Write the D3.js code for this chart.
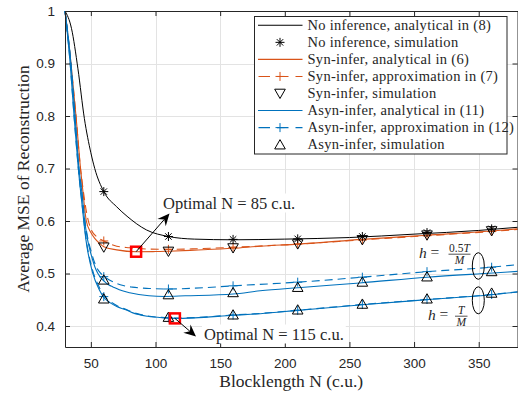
<!DOCTYPE html>
<html>
<head>
<meta charset="utf-8">
<script src="https://cdn.jsdelivr.net/npm/d3@7"></script>
<style>
  body { margin: 0; background: #fff; }
  text { font-family: "Liberation Serif", "Times New Roman", serif; }
  .tick text { font-family: "Liberation Sans", Arial, sans-serif; font-size: 13.5px; fill: #262626; }
</style>
</head>
<body>
<svg id="chart" width="518" height="399"></svg>
<script>
// ---- data ---------------------------------------------------------------
const xTicks = [50, 100, 150, 200, 250, 300, 350];
const yTicks = [0.4, 0.5, 0.6, 0.7, 0.8, 0.9, 1.0];

// blocklengths of the simulated points
const simN = [60, 110, 160, 210, 260, 310, 360];

// no inference
const noInfN = [30, 35, 40, 45, 50, 53, 60, 70, 78, 93, 110, 130, 160, 200, 250, 300, 350, 380];
const noInfAnalytic = [1.0, 0.967, 0.89, 0.795, 0.73, 0.70, 0.656, 0.627, 0.609, 0.583, 0.5705, 0.5655, 0.5642, 0.5655, 0.5685, 0.575, 0.582, 0.588];
const noInfSim = [0.656, 0.5705, 0.565, 0.566, 0.5705, 0.578, 0.585];

// synchronous inference
const synN = [30, 34.6, 38.5, 42, 43.7, 46.5, 50, 53, 56.5, 60, 70, 85, 100, 110, 130, 160, 181, 210, 260, 310, 360, 380];
const synAnalytic = [1.0, 0.90, 0.80, 0.70, 0.66, 0.60, 0.578, 0.567, 0.558, 0.551, 0.545, 0.5415, 0.5418, 0.5425, 0.5445, 0.548, 0.552, 0.556, 0.565, 0.573, 0.581, 0.585];
const synApproxN = [30, 34.6, 38.5, 42, 44, 47, 50, 55, 60, 65, 70, 80, 90, 110, 130, 160, 210, 260, 310, 360, 380];
const synApprox = [1.0, 0.90, 0.80, 0.70, 0.66, 0.612, 0.585, 0.569, 0.562, 0.556, 0.552, 0.549, 0.547, 0.546, 0.547, 0.550, 0.556, 0.564, 0.572, 0.580, 0.584];
const synApproxMarks = [0.562, 0.546, 0.550, 0.556, 0.564, 0.572, 0.580];
const synSim = [0.550, 0.542, 0.5485, 0.556, 0.564, 0.573, 0.581];

// asynchronous inference, h = 0.5T/M
const asynHalfN = [30, 34.6, 37.7, 40.8, 43, 45, 47.5, 50, 54, 57, 60, 64, 67, 72, 80, 95, 107, 123, 160, 181, 210, 258, 310, 361, 380];
const asynHalfAnalytic = [1.0, 0.90, 0.80, 0.70, 0.655, 0.605, 0.564, 0.538, 0.507, 0.494, 0.486, 0.478, 0.4745, 0.469, 0.4635, 0.4577, 0.4563, 0.4575, 0.461, 0.467, 0.473, 0.482, 0.493, 0.501, 0.504];
const asynHalfApproxN = [30, 34.6, 37.7, 40.8, 43, 45, 47.5, 50, 54, 57, 60, 64, 70, 75, 82, 95, 110, 130, 160, 210, 260, 310, 360, 380];
const asynHalfApprox = [1.0, 0.90, 0.80, 0.70, 0.657, 0.609, 0.569, 0.544, 0.514, 0.502, 0.495, 0.488, 0.481, 0.477, 0.474, 0.4715, 0.4705, 0.472, 0.4765, 0.4835, 0.493, 0.5035, 0.512, 0.517];
const asynHalfApproxMarks = [0.494, 0.4705, 0.4765, 0.4835, 0.493, 0.5035, 0.512];
const asynHalfSim = [0.488, 0.460, 0.464, 0.474, 0.484, 0.494, 0.504];

// asynchronous inference, h = T/M
const asynFullN = [30, 34, 37, 40.3, 43, 46.2, 51.4, 56.5, 60.4, 65, 70, 77, 82, 94, 107, 115, 130, 160, 181, 210, 260, 310, 360, 380];
const asynFullAnalytic = [1.0, 0.90, 0.80, 0.70, 0.635, 0.564, 0.501, 0.469, 0.4533, 0.444, 0.437, 0.431, 0.4255, 0.4185, 0.4155, 0.4145, 0.4155, 0.4205, 0.4234, 0.4297, 0.4405, 0.4502, 0.4596, 0.4647];
const asynFullApprox = [1.0, 0.90, 0.80, 0.70, 0.637, 0.568, 0.506, 0.474, 0.457, 0.447, 0.439, 0.432, 0.4265, 0.419, 0.416, 0.415, 0.416, 0.421, 0.424, 0.430, 0.441, 0.4505, 0.460, 0.465];
const asynFullApproxMarks = [0.456, 0.4155, 0.421, 0.430, 0.441, 0.4505, 0.460];
const asynFullSim = [0.452, 0.417, 0.4215, 0.431, 0.442, 0.452, 0.463];

// optimal blocklengths
const optimalSyn = { n: 85, v: 0.5415 };
const optimalAsyn = { n: 115, v: 0.4145 };

// ---- setup --------------------------------------------------------------
const BLACK = "#000000", ORANGE = "#D95319", BLUE = "#0072BD", AXIS = "#262626";
const svg = d3.select("#chart");
const M = { left: 65, right: 517.5, top: 11, bottom: 347 };

const x = d3.scaleLinear().domain([30, 380]).range([M.left, M.right]);
const y = d3.scaleLinear().domain([0.36, 1]).range([M.bottom, M.top]);

const plot = svg.append("g");

// grid
const grid = plot.append("g").attr("stroke", "#e3e3e3").attr("stroke-width", 1);
xTicks.forEach(t => grid.append("line")
  .attr("x1", Math.round(x(t)) + 0.5).attr("x2", Math.round(x(t)) + 0.5)
  .attr("y1", M.top).attr("y2", M.bottom));
yTicks.forEach(t => grid.append("line")
  .attr("y1", Math.round(y(t)) + 0.5).attr("y2", Math.round(y(t)) + 0.5)
  .attr("x1", M.left).attr("x2", M.right));

// curves
const lineGen = d3.line().x(d => x(d[0])).y(d => y(d[1])).curve(d3.curveMonotoneX);
function curve(ns, vs, color, dash, width) {
  plot.append("path")
    .datum(d3.zip(ns, vs))
    .attr("d", lineGen)
    .attr("fill", "none")
    .attr("stroke", color)
    .attr("stroke-width", width || 1.1)
    .attr("stroke-dasharray", dash || null);
}
curve(noInfN, noInfAnalytic, BLACK, null, 1);
curve(synN, synAnalytic, ORANGE);
curve(synApproxN, synApprox, ORANGE, "8,5");
curve(asynHalfN, asynHalfAnalytic, BLUE);
curve(asynHalfApproxN, asynHalfApprox, BLUE, "8,5");
curve(asynFullN, asynFullAnalytic, BLUE);
curve(asynFullN, asynFullApprox, BLUE, "8,5");

// marker shapes
const markerPaths = {
  plus: "M-4.5,0H4.5M0,-4.5V4.5",
  star: "M-4.5,0H4.5M0,-4.5V4.5M-3.2,-3.2L3.2,3.2M-3.2,3.2L3.2,-3.2",
  up: "M0,-5L5.3,4.3L-5.3,4.3Z",
  down: "M0,5L5.3,-4.3L-5.3,-4.3Z"
};
function markers(vs, shape, color) {
  plot.append("g").selectAll("path")
    .data(d3.zip(simN, vs))
    .join("path")
    .attr("transform", d => `translate(${x(d[0])},${y(d[1])})`)
    .attr("d", markerPaths[shape])
    .attr("fill", "none")
    .attr("stroke", color)
    .attr("stroke-width", 1);
}
markers(synApproxMarks, "plus", ORANGE);
markers(asynHalfApproxMarks, "plus", BLUE);
markers(asynFullApproxMarks, "plus", BLUE);
markers(noInfSim, "star", BLACK);
markers(synSim, "down", BLACK);
markers(asynHalfSim, "up", BLACK);
markers(asynFullSim, "up", BLACK);

// axes (ticks pointing inward, box on all four sides)
const axes = svg.append("g");
const fmtY = d => d === 1 ? "1" : d.toFixed(1);
axes.append("g").attr("transform", `translate(0,${M.bottom})`)
  .call(d3.axisBottom(x).tickValues(xTicks).tickSizeInner(-5).tickSizeOuter(0).tickPadding(11));
axes.append("g").attr("transform", `translate(0,${M.top})`)
  .call(d3.axisTop(x).tickValues(xTicks).tickSizeInner(-5).tickSizeOuter(0).tickFormat(""));
axes.append("g").attr("transform", `translate(${M.left},0)`)
  .call(d3.axisLeft(y).tickValues(yTicks).tickSizeInner(-5).tickSizeOuter(0).tickPadding(10).tickFormat(fmtY));
axes.append("g").attr("transform", `translate(${M.right},0)`)
  .call(d3.axisRight(y).tickValues(yTicks).tickSizeInner(-5).tickSizeOuter(0).tickFormat(""));
axes.selectAll(".domain, .tick line").attr("stroke", AXIS);
axes.selectAll("text").attr("fill", AXIS);

// axis titles
svg.append("text")
  .attr("x", (M.left + M.right) / 2).attr("y", 387)
  .attr("text-anchor", "middle").attr("font-size", 17.5).attr("fill", AXIS)
  .text("Blocklength N (c.u.)");
svg.append("text")
  .attr("transform", `translate(29,${(M.top + M.bottom) / 2}) rotate(-90)`)
  .attr("text-anchor", "middle").attr("font-size", 17.5).attr("fill", AXIS)
  .text("Average MSE of Reconstruction");

// ---- annotations ------------------------------------------------------
const ann = svg.append("g");

function arrow(x1, y1, x2, y2) {
  const ang = Math.atan2(y2 - y1, x2 - x1);
  const L = 12, W = 5.5, notch = 4;
  ann.append("line").attr("x1", x1).attr("y1", y1)
    .attr("x2", x2 - Math.cos(ang) * (L - notch)).attr("y2", y2 - Math.sin(ang) * (L - notch))
    .attr("stroke", BLACK).attr("stroke-width", 1);
  const pts = [[0, 0], [-L, -W], [-(L - notch), 0], [-L, W]]
    .map(([u, v]) => [x2 + u * Math.cos(ang) - v * Math.sin(ang), y2 + u * Math.sin(ang) + v * Math.cos(ang)]);
  ann.append("path").attr("d", "M" + pts.join("L") + "Z").attr("fill", BLACK);
}
function boxedText(tx, ty, str) {
  const g = ann.append("g");
  const rect = g.append("rect").attr("fill", "#fff");
  const t = g.append("text").attr("x", tx).attr("y", ty)
    .attr("font-size", 16.5).attr("fill", AXIS).text(str);
  const b = t.node().getBBox();
  rect.attr("x", b.x - 2).attr("y", b.y).attr("width", b.width + 4).attr("height", b.height);
}

boxedText(163, 208.5, "Optimal N = 85 c.u.");
boxedText(204, 339.5, "Optimal N = 115 c.u.");

[optimalSyn, optimalAsyn].forEach(o => {
  ann.append("rect")
    .attr("x", x(o.n) - 5).attr("y", y(o.v) - 5)
    .attr("width", 10).attr("height", 10)
    .attr("fill", "none").attr("stroke", "#FF0000").attr("stroke-width", 2.5);
});
arrow(x(optimalSyn.n), y(optimalSyn.v), 169.5, 213.5);
arrow(x(optimalAsyn.n), y(optimalAsyn.v), 196, 336.5);

// grouping ellipses for the two switching intervals
ann.append("ellipse").attr("cx", 478.3).attr("cy", 266).attr("rx", 6).attr("ry", 13.3)
  .attr("fill", "none").attr("stroke", BLACK).attr("stroke-width", 1);
ann.append("ellipse").attr("cx", 478.3).attr("cy", 300.3).attr("rx", 6).attr("ry", 13.5)
  .attr("fill", "none").attr("stroke", BLACK).attr("stroke-width", 1);

function hLabel(hx, base, num, barX1, barX2) {
  const fc = (barX1 + barX2) / 2;
  ann.append("text").attr("x", hx).attr("y", base).attr("font-size", 15.5)
    .attr("font-style", "italic").attr("fill", AXIS).text("h");
  ann.append("text").attr("x", hx + 11.5).attr("y", base - 0.5).attr("font-size", 15.5)
    .attr("fill", AXIS).text("=");
  ann.append("line").attr("x1", barX1).attr("x2", barX2)
    .attr("y1", base - 3.6).attr("y2", base - 3.6)
    .attr("stroke", AXIS).attr("stroke-width", 0.8);
  const numT = ann.append("text").attr("x", fc).attr("y", base - 5.4)
    .attr("text-anchor", "middle").attr("font-size", 11.5).attr("fill", AXIS);
  num.forEach(([s, it]) => numT.append("tspan").attr("font-style", it ? "italic" : null).text(s));
  ann.append("text").attr("x", fc).attr("y", base + 6.2)
    .attr("text-anchor", "middle").attr("font-size", 11.5).attr("font-style", "italic")
    .attr("fill", AXIS).text("M");
}
hLabel(419, 257.8, [["0.5", false], ["T", true]], 448.5, 470.5);
hLabel(428, 319.8, [["T", true]], 455, 467.5);

// ---- legend -------------------------------------------------------------
const legendItems = [
  { label: "No inference, analytical in (8)", color: BLACK, line: true },
  { label: "No inference, simulation", color: BLACK, marker: "star" },
  { label: "Syn-infer, analytical in (6)", color: ORANGE, line: true },
  { label: "Syn-infer, approximation in (7)", color: ORANGE, line: true, dash: "8,5", marker: "plus" },
  { label: "Syn-infer, simulation", color: BLACK, marker: "down" },
  { label: "Asyn-infer, analytical in (11)", color: BLUE, line: true },
  { label: "Asyn-infer, approximation in (12)", color: BLUE, line: true, dash: "8,5", marker: "plus" },
  { label: "Asyn-infer, simulation", color: BLACK, marker: "up" }
];
const lg = svg.append("g");
lg.append("rect").attr("x", 254.5).attr("y", 16.5).attr("width", 252.5).attr("height", 137.5)
  .attr("fill", "#fff").attr("stroke", AXIS).attr("stroke-width", 1);
legendItems.forEach((it, i) => {
  const cy = 25.3 + i * 17.05;
  if (it.line) {
    lg.append("line").attr("x1", 258).attr("x2", 302.5).attr("y1", cy).attr("y2", cy)
      .attr("stroke", it.color).attr("stroke-width", 1.1)
      .attr("stroke-dasharray", it.dash ? "11.5,7" : null)
      .attr("stroke-dashoffset", it.dash ? -0.5 : null);
  }
  if (it.marker) {
    lg.append("path").attr("transform", `translate(280,${cy})`)
      .attr("d", markerPaths[it.marker]).attr("fill", "none")
      .attr("stroke", it.color).attr("stroke-width", 1);
  }
  lg.append("text").attr("x", 307.5).attr("y", cy + 4.8)
    .attr("font-size", 14.5).attr("letter-spacing", 0.3).attr("fill", AXIS).text(it.label);
});
</script>
</body>
</html>
